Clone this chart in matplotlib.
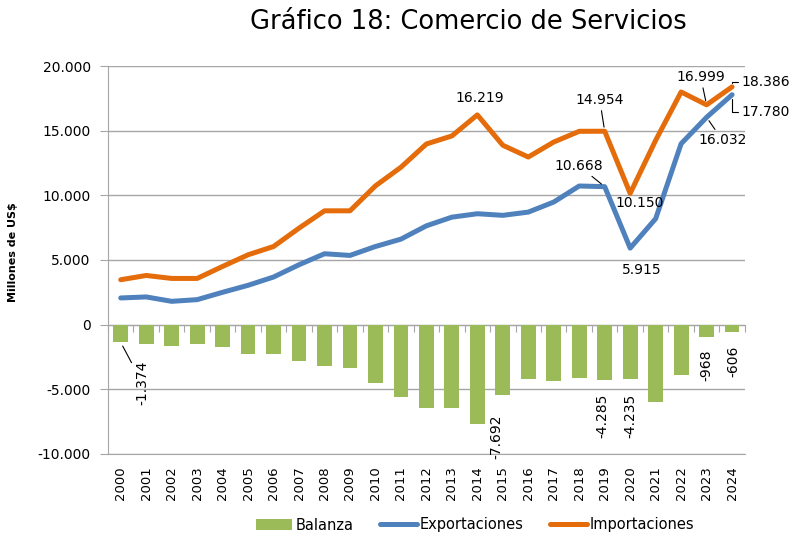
import numpy as np
import matplotlib
matplotlib.use('Agg')
import matplotlib.pyplot as plt
from matplotlib.ticker import FuncFormatter, FixedLocator

# Datos (millones de US$)
anios = [str(a) for a in range(2000, 2025)]
exportaciones = [2060, 2140, 1800, 1930, 2500, 3040, 3680, 4630, 5480, 5350, 6040, 6610, 7640,
                 8310, 8575, 8450, 8700, 9480, 10720, 10668, 5915, 8190, 13990, 16032, 17780]
importaciones = [3470, 3800, 3570, 3570, 4500, 5400, 6040, 7460, 8800, 8800, 10730, 12170, 13970,
                 14590, 16219, 13870, 12960, 14120, 14950, 14954, 10150, 14250, 17990, 16999, 18386]
balanza = [-1374, -1503, -1632, -1503, -1762, -2280, -2280, -2798, -3238, -3342, -4482, -5570, -6425,
           -6425, -7692, -5466, -4170, -4378, -4093, -4285, -4235, -5984, -3860, -968, -606]

verde = '#9BBB59'
azul = '#4F81BD'
naranja = '#E46C0A'
gris = '#A6A6A6'

x = np.arange(len(anios))

fig = plt.figure(figsize=(8, 5.41), dpi=100)
ax = fig.add_axes([0.135, 0.161, 0.796, 0.717])

barras = ax.bar(x, balanza, width=0.58, color=verde, label='Balanza', zorder=2)
l_exp, = ax.plot(x, exportaciones, color=azul, lw=3.6, label='Exportaciones', zorder=3, solid_capstyle='round')
l_imp, = ax.plot(x, importaciones, color=naranja, lw=3.6, label='Importaciones', zorder=3, solid_capstyle='round')

ax.set_xlim(-0.5, len(anios) - 0.5)
ax.set_ylim(-10000, 20000)
ax.set_yticks(np.arange(-10000, 20001, 5000))
ax.yaxis.set_major_formatter(FuncFormatter(lambda v, p: format(int(v), ',').replace(',', '.')))
ax.grid(axis='y', color=gris, lw=1, zorder=0)
ax.set_axisbelow(True)

for s in ['top', 'right']:
    ax.spines[s].set_visible(False)
ax.spines['left'].set_color(gris)
ax.spines['bottom'].set_color(gris)
ax.tick_params(axis='y', length=5.5, color=gris, labelsize=10, pad=7)

ax.set_xticks(x)
ax.set_xticklabels(anios, rotation=90, fontsize=9.5)
ax.tick_params(axis='x', length=0, pad=9)

# eje en cero con marcas entre categorias
sec = ax.secondary_xaxis(1 / 3)
sec.xaxis.set_major_locator(FixedLocator(np.arange(-0.5, len(anios), 1)))
sec.tick_params(axis='x', direction='out', length=5, color=gris, labelbottom=False)
sec.spines['bottom'].set_color(gris)

ax.set_ylabel('Millones de US$', fontsize=8, fontweight='bold')
ax.yaxis.set_label_coords(-0.141, 0.52)

fig.text(0.586, 0.96, 'Gráfico 18: Comercio de Servicios', fontsize=18.5, ha='center', va='center')


def etiqueta(i, serie, dx, dy, linea=False, rot=0, ha='center', estilo=None):
    txt = format(serie[i], ',').replace(',', '.')
    props = None
    if linea:
        props = dict(arrowstyle='-', lw=0.8, color='black', shrinkA=1, shrinkB=3)
        if estilo:
            props['connectionstyle'] = estilo
    ax.annotate(txt, xy=(x[i], serie[i]), xytext=(dx, dy), textcoords='offset points',
                ha=ha, va='center', rotation=rot, fontsize=10, arrowprops=props, zorder=5)


etiqueta(14, importaciones, 1.8, 12.2)
etiqueta(19, importaciones, -3.6, 22.8, linea=True)
etiqueta(19, exportaciones, -18.7, 15.1, linea=True)
etiqueta(20, importaciones, 6.5, -7.2)
etiqueta(20, exportaciones, 8.6, -15.5)
etiqueta(23, importaciones, -4.3, 20.2, linea=True)
etiqueta(23, exportaciones, 11.5, -16.6, linea=True)
etiqueta(24, importaciones, 7, 3.7, linea=True, ha='left', estilo='angle,angleA=0,angleB=90,rad=0')
etiqueta(24, exportaciones, 7, -12.2, linea=True, ha='left', estilo='angle,angleA=0,angleB=90,rad=0')

etiqueta(0, balanza, 15.3, -28.8, linea=True, rot=90)
etiqueta(14, balanza, 14, -9, rot=90)
etiqueta(19, balanza, -1.4, -25.6, rot=90)
etiqueta(20, balanza, 0.5, -26, rot=90)
etiqueta(23, balanza, 0, -20.5, rot=90)
etiqueta(24, balanza, 1.2, -21, rot=90)

fig.legend(handles=[barras, l_exp, l_imp], loc='center', bbox_to_anchor=(0.594, 1 - 525 / 541),
           ncol=3, frameon=False, fontsize=10.5, handlelength=2.5, handletextpad=0.2, columnspacing=1.85)

fig.savefig('out.png', dpi=100)
